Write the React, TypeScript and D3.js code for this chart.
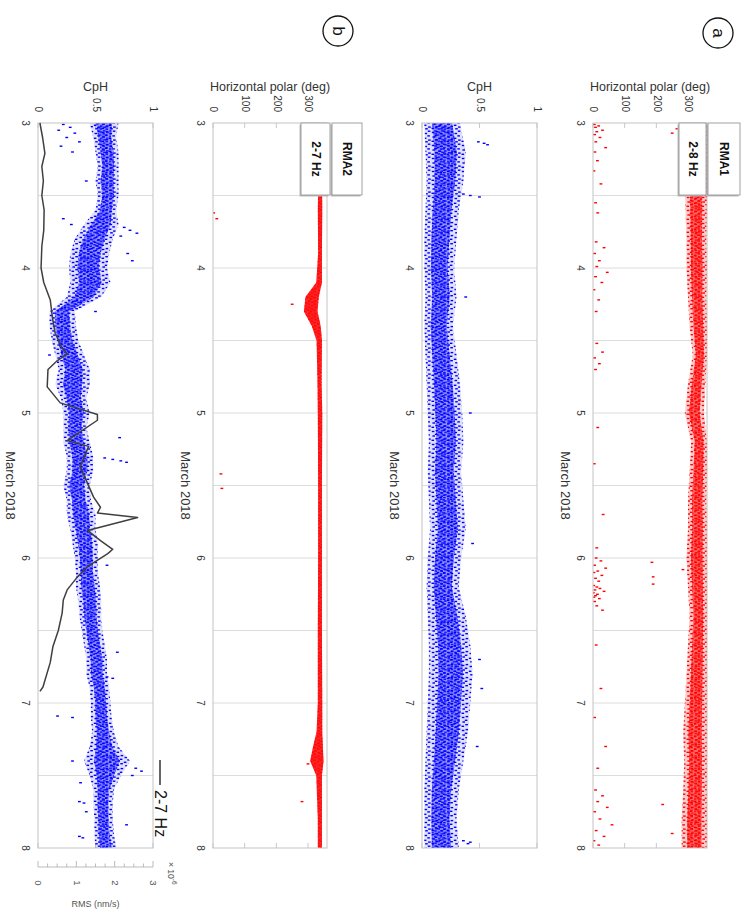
import React from 'react';
import * as d3 from 'd3';

// ---------- data ----------
const dayTicks = [3, 4, 5, 6, 7, 8];
const gridDays = [3.5, 4, 4.5, 5, 5.5, 6, 6.5, 7, 7.5];
const polarTicks = [0, 100, 200, 300];
const cphTicks = [0, 0.5, 1];
const rmsTicks = [0, 1, 2, 3];

// [day, low, high] envelopes of the point clouds
const polarABand: [number, number, number][] = [
  [3.0, 280, 360], [3.2, 285, 360], [3.4, 290, 360], [3.6, 292, 360], [3.8, 295, 358],
  [4.0, 295, 360], [4.2, 300, 358], [4.4, 305, 360], [4.6, 315, 360], [4.8, 300, 355],
  [5.0, 290, 350], [5.2, 310, 360], [5.4, 305, 360], [5.6, 300, 358], [5.8, 300, 360],
  [6.0, 295, 360], [6.2, 300, 360], [6.4, 305, 360], [6.6, 300, 360], [6.8, 295, 360],
  [7.0, 290, 360], [7.2, 285, 360], [7.4, 288, 360], [7.6, 285, 360], [7.8, 280, 360],
  [8.0, 280, 360],
];
const cphABand: [number, number, number][] = [
  [3.0, 0.02, 0.33], [3.2, 0.03, 0.38], [3.4, 0.04, 0.36], [3.6, 0.03, 0.32], [3.8, 0.02, 0.30],
  [4.0, 0.02, 0.28], [4.2, 0.03, 0.30], [4.4, 0.02, 0.27], [4.6, 0.03, 0.30], [4.8, 0.04, 0.33],
  [5.0, 0.05, 0.35], [5.2, 0.06, 0.36], [5.4, 0.05, 0.34], [5.6, 0.06, 0.36], [5.8, 0.07, 0.38],
  [6.0, 0.05, 0.34], [6.2, 0.04, 0.32], [6.4, 0.05, 0.38], [6.6, 0.06, 0.42], [6.8, 0.06, 0.44],
  [7.0, 0.05, 0.42], [7.2, 0.04, 0.40], [7.4, 0.03, 0.36], [7.6, 0.02, 0.32], [7.8, 0.02, 0.30],
  [8.0, 0.02, 0.32],
];
const polarBBand: [number, number, number][] = [
  [3.0, 332, 344], [3.3, 333, 344], [3.6, 331, 345], [3.9, 332, 344], [4.1, 326, 344],
  [4.2, 292, 334], [4.3, 287, 330], [4.4, 312, 340], [4.5, 327, 344], [4.8, 330, 343],
  [5.0, 331, 345], [5.5, 332, 344], [6.0, 332, 344], [6.5, 331, 344], [7.0, 331, 345],
  [7.2, 327, 345], [7.3, 316, 347], [7.4, 307, 349], [7.5, 326, 344], [7.8, 331, 344],
  [8.0, 331, 344],
];
const cphBBand: [number, number, number][] = [
  [3.0, 0.45, 0.70], [3.1, 0.48, 0.68], [3.2, 0.50, 0.70], [3.3, 0.52, 0.70], [3.4, 0.50, 0.70],
  [3.5, 0.52, 0.70], [3.6, 0.50, 0.68], [3.7, 0.40, 0.70], [3.8, 0.32, 0.65], [3.9, 0.28, 0.62],
  [4.0, 0.27, 0.60], [4.1, 0.28, 0.63], [4.2, 0.25, 0.55], [4.3, 0.10, 0.32], [4.4, 0.10, 0.33],
  [4.5, 0.12, 0.35], [4.6, 0.15, 0.40], [4.7, 0.18, 0.45], [4.8, 0.15, 0.45], [4.9, 0.20, 0.42],
  [5.0, 0.22, 0.45], [5.1, 0.22, 0.42], [5.2, 0.22, 0.45], [5.3, 0.25, 0.48], [5.4, 0.25, 0.48],
  [5.5, 0.22, 0.45], [5.6, 0.25, 0.46], [5.7, 0.25, 0.50], [5.8, 0.28, 0.50], [5.9, 0.30, 0.52],
  [6.0, 0.32, 0.52], [6.1, 0.33, 0.52], [6.2, 0.33, 0.54], [6.3, 0.35, 0.55], [6.4, 0.36, 0.55],
  [6.5, 0.38, 0.56], [6.6, 0.40, 0.58], [6.7, 0.42, 0.60], [6.8, 0.42, 0.60], [6.9, 0.45, 0.62],
  [7.0, 0.46, 0.63], [7.1, 0.46, 0.64], [7.2, 0.47, 0.66], [7.3, 0.45, 0.70], [7.4, 0.40, 0.80],
  [7.5, 0.45, 0.72], [7.6, 0.48, 0.66], [7.7, 0.48, 0.65], [7.8, 0.49, 0.65], [7.9, 0.49, 0.66],
  [8.0, 0.50, 0.68],
];

// isolated points [day, value]
const polarAPoints: [number, number][] = [
  [3.01, 4], [3.02, 18], [3.03, 8], [3.05, 30], [3.06, 12], [3.08, 5], [3.1, 22], [3.13, 9],
  [3.17, 40], [3.2, 6], [3.26, 14], [3.33, 3], [3.42, 25], [3.55, 8], [3.62, 15],
  [3.02, 275], [3.04, 265], [3.07, 250], [3.1, 280],
  [3.82, 10], [3.86, 35], [3.9, 5], [3.95, 20], [3.99, 12], [4.03, 45], [4.06, 8], [4.1, 28],
  [4.15, 3], [4.22, 18], [4.3, 10],
  [4.52, 12], [4.58, 30], [4.62, 5], [4.66, 20], [4.7, 8],
  [5.1, 15], [5.35, 4], [5.7, 32], [5.93, 12],
  [6.0, 10], [6.02, 25], [6.03, 186], [6.05, 5], [6.07, 40], [6.08, 284], [6.09, 15], [6.1, 3],
  [6.12, 28], [6.13, 190], [6.14, 8], [6.16, 18], [6.18, 190], [6.19, 2], [6.2, 12], [6.21, 22],
  [6.22, 6], [6.23, 35], [6.24, 1], [6.25, 14], [6.26, 8], [6.27, 3], [6.28, 20], [6.3, 5],
  [6.33, 12], [6.36, 30],
  [6.6, 10], [6.9, 25], [7.1, 5], [7.3, 40], [7.45, 15],
  [7.6, 8], [7.64, 30], [7.68, 15], [7.72, 45], [7.75, 5], [7.8, 22], [7.84, 60], [7.88, 10],
  [7.92, 35], [7.95, 3], [7.98, 18], [7.7, 220], [7.9, 250],
];
const cphAPoints: [number, number][] = [
  [3.13, 0.49], [3.14, 0.54], [3.15, 0.57], [3.49, 0.36], [3.5, 0.42], [3.51, 0.5],
  [4.2, 0.38], [5.0, 0.42], [5.9, 0.44], [6.7, 0.5], [6.9, 0.52], [7.3, 0.48],
  [7.95, 0.36], [7.96, 0.42], [7.97, 0.4],
];
const polarBPoints: [number, number][] = [
  [3.62, 2], [3.66, 12], [4.25, 250], [5.42, 25], [5.52, 28], [7.68, 281], [7.42, 300],
];
const cphBPoints: [number, number][] = [
  [3.01, 0.22], [3.03, 0.28], [3.05, 0.18], [3.07, 0.32], [3.1, 0.25], [3.13, 0.36], [3.16, 0.2],
  [3.2, 0.3], [3.4, 0.42], [3.66, 0.22], [3.7, 0.29], [3.72, 0.75], [3.74, 0.8], [3.76, 0.86],
  [3.78, 0.72], [3.9, 0.78], [3.95, 0.82], [4.3, 0.5], [4.6, 0.1], [5.17, 0.71], [5.31, 0.58],
  [5.32, 0.65], [5.33, 0.72], [5.34, 0.77], [6.05, 0.6], [6.65, 0.69], [6.82, 0.6], [6.83, 0.65],
  [7.09, 0.17], [7.1, 0.3], [7.4, 0.3], [7.55, 0.37], [7.68, 0.36], [7.69, 0.4], [7.75, 0.42],
  [7.84, 0.77], [7.92, 0.36], [7.93, 0.39], [7.45, 0.85], [7.47, 0.9], [7.5, 0.82],
];

// RMS (x10^-6) line, 2-7 Hz
const rmsLine: [number, number][] = [
  [3.0, 0.05], [3.1, 0.12], [3.21, 0.18], [3.3, 0.1], [3.4, 0.14], [3.5, 0.1], [3.6, 0.16],
  [3.74, 0.15], [3.85, 0.1], [4.0, 0.08], [4.1, 0.15], [4.22, 0.32], [4.35, 0.38], [4.45, 0.45],
  [4.55, 0.62], [4.59, 0.76], [4.64, 0.5], [4.7, 0.26], [4.82, 0.24], [4.93, 0.58], [5.01, 1.55],
  [5.05, 1.55], [5.19, 0.76], [5.23, 1.32], [5.37, 1.1], [5.58, 1.45], [5.65, 1.63], [5.69, 1.55],
  [5.72, 2.6], [5.81, 1.29], [5.88, 1.63], [5.94, 1.95], [5.97, 1.82], [6.06, 1.29], [6.13, 1.03],
  [6.22, 0.76], [6.29, 0.66], [6.38, 0.63], [6.5, 0.53], [6.61, 0.39], [6.72, 0.32], [6.89, 0.13],
  [6.92, 0.05],
];

// ---------- layout (original, un-rotated frame: 915 wide x 746 tall) ----------
const FONT = 'Liberation Sans, Arial, Helvetica, sans-serif';
const X0 = 123, X1 = 848;
const xS = d3.scaleLinear().domain([3, 8]).range([X0, X1]);

type PanelDef = {
  id: string; bottom: number; top: number; dom: [number, number]; ticks: number[];
  title: string; color: string; outerOp: number; innerOp: number;
  band: [number, number, number][]; pts: [number, number][]; tight?: boolean;
};

const panels: PanelDef[] = [
  { id: 'pa', bottom: 153, top: 39, dom: [0, 360], ticks: polarTicks, title: 'Horizontal polar (deg)', color: '#ff0000', outerOp: 0.2, innerOp: 0.5, band: polarABand, pts: polarAPoints },
  { id: 'ca', bottom: 324, top: 209, dom: [0, 1], ticks: cphTicks, title: 'CpH', color: '#0000ff', outerOp: 0.12, innerOp: 0.35, band: cphABand, pts: cphAPoints },
  { id: 'pb', bottom: 533, top: 419, dom: [0, 360], ticks: polarTicks, title: 'Horizontal polar (deg)', color: '#ff0000', outerOp: 0.85, innerOp: 0.85, band: polarBBand, pts: polarBPoints, tight: true },
  { id: 'cb', bottom: 708, top: 593, dom: [0, 1], ticks: cphTicks, title: 'CpH', color: '#0000ff', outerOp: 0.12, innerOp: 0.35, band: cphBBand, pts: cphBPoints },
];

// marker texture layouts (style only): dash positions inside a repeating tile
const sparseTile: [number, number][] = [
  [0.5, 0.6], [5.2, 1.1], [9.4, 0.3], [2.8, 3.9], [7.6, 4.6], [11.1, 3.2],
  [0.9, 7.8], [4.6, 8.6], [9.0, 8.1], [6.3, 11.0], [1.8, 11.6], [10.6, 11.9],
];
const denseTile: [number, number][] = [
  [0.3, 0.4], [3.4, 0.9], [6.6, 0.2], [9.5, 1.3], [1.6, 3.2], [5.0, 3.6], [8.1, 4.0],
  [10.9, 4.6], [0.4, 6.4], [3.2, 6.9], [6.4, 6.7], [9.3, 7.6], [2.0, 9.6], [5.2, 10.2],
  [7.9, 10.0], [10.8, 10.6],
];

function Patterns() {
  const defs: JSX.Element[] = [];
  [['r', '#ff0000'], ['b', '#0000ff']].forEach(([k, c]) => {
    defs.push(
      <pattern key={'s' + k} id={'sparse-' + k} width={13} height={15} patternUnits="userSpaceOnUse">
        {sparseTile.map(([x, y], i) => <rect key={i} x={x} y={y} width={1.4} height={2.6} fill={c} />)}
      </pattern>,
      <pattern key={'d' + k} id={'dense-' + k} width={12.5} height={13} patternUnits="userSpaceOnUse">
        {denseTile.map(([x, y], i) => <rect key={i} x={x} y={y} width={1.4} height={2.6} fill={c} />)}
      </pattern>
    );
  });
  return <defs>{defs}
    {panels.map(p => (
      <clipPath key={p.id} id={'clip-' + p.id}><rect x={X0} y={p.top} width={X1 - X0} height={p.bottom - p.top} /></clipPath>
    ))}
  </defs>;
}

function Panel({ p }: { p: PanelDef }) {
  const yS = d3.scaleLinear().domain(p.dom).range([p.bottom, p.top]);
  const k = p.color === '#ff0000' ? 'r' : 'b';
  const outer = d3.area<[number, number, number]>().x(d => xS(d[0])).y0(d => yS(d[1])).y1(d => yS(d[2]));
  const inner = d3.area<[number, number, number]>().x(d => xS(d[0]))
    .y0(d => yS(d[1] + (d[2] - d[1]) * 0.22)).y1(d => yS(d[1] + (d[2] - d[1]) * 0.78));
  const mid = (p.top + p.bottom) / 2;
  return (
    <g>
      {gridDays.map(d => (
        <line key={d} x1={xS(d)} x2={xS(d)} y1={p.top} y2={p.bottom} stroke="#dcdcdc" strokeWidth={1} />
      ))}
      {p.ticks.map(t => (
        <g key={t}>
          <line x1={X0} x2={X0 + 5} y1={yS(t)} y2={yS(t)} stroke="#c8c8c8" />
          <line x1={X1} x2={X1 - 5} y1={yS(t)} y2={yS(t)} stroke="#c8c8c8" />
        </g>
      ))}
      <g clipPath={`url(#clip-${p.id})`}>
        {p.tight ? (
          <g>
            <path d={outer(p.band) || ''} fill={p.color} fillOpacity={p.outerOp} />
            <path d={outer(p.band) || ''} fill={`url(#dense-${k})`} />
          </g>
        ) : (
          <g>
            <path d={outer(p.band) || ''} fill={p.color} fillOpacity={p.outerOp} />
            <path d={outer(p.band) || ''} fill={`url(#sparse-${k})`} />
            <path d={inner(p.band) || ''} fill={p.color} fillOpacity={p.innerOp} />
            <path d={inner(p.band) || ''} fill={`url(#dense-${k})`} />
          </g>
        )}
        {p.pts.map((d, i) => (
          <rect key={i} x={xS(d[0]) - 0.7} y={yS(d[1]) - 1.4} width={1.4} height={2.8} fill={p.color} />
        ))}
      </g>
      <rect x={X0} y={p.top} width={X1 - X0} height={p.bottom - p.top} fill="none" stroke="#c4c4c4" strokeWidth={1} />
      {p.ticks.map(t => (
        <text key={t} x={112} y={yS(t)} textAnchor="end" dominantBaseline="middle" fontSize={10} fill="#333" fontFamily={FONT}>{t}</text>
      ))}
      {dayTicks.map(d => (
        <text key={d} x={xS(d)} y={p.bottom + 13} textAnchor="middle" dominantBaseline="middle" fontSize={10} fill="#333" fontFamily={FONT}>{d}</text>
      ))}
      <text x={(X0 + X1) / 2} y={p.bottom + 29} textAnchor="middle" dominantBaseline="middle" fontSize={13} fill="#333" fontFamily={FONT}>March 2018</text>
      <text transform={`translate(88,${mid}) rotate(-90)`} textAnchor="middle" dominantBaseline="middle" fontSize={12.5} fill="#333" fontFamily={FONT}>{p.title}</text>
    </g>
  );
}

function LabelBox({ y, h, text }: { y: number; h: number; text: string }) {
  return (
    <g>
      <rect x={X0 + 1.5} y={y + 1.5} width={72} height={h} fill="#bdbdbd" />
      <rect x={X0} y={y} width={72} height={h} fill="#fff" stroke="#8a8a8a" strokeWidth={0.8} />
      <text x={X0 + 36} y={y + h / 2 + 0.5} textAnchor="middle" dominantBaseline="middle" fontSize={12} fontWeight="bold" fill="#111" fontFamily={FONT}>{text}</text>
    </g>
  );
}

export default function App() {
  const rmsS = d3.scaleLinear().domain([0, 3]).range([708, 593]);
  const line = d3.line<[number, number]>().x(d => xS(d[0])).y(d => rmsS(d[1]));
  const minor = d3.range(0, 3.001, 0.25);
  return (
    <svg width={746} height={915} style={{ position: 'absolute', left: 0, top: 0, background: '#fff' }}>
      <rect x={0} y={0} width={746} height={915} fill="#fff" />
      <g transform="translate(746,0) rotate(90)">
        <Patterns />
        {panels.map(p => <Panel key={p.id} p={p} />)}

        <path d={line(rmsLine) || ''} fill="none" stroke="#3f3f3f" strokeWidth={1.5} strokeLinejoin="round" />

        <LabelBox y={6} h={32} text="RMA1" />
        <LabelBox y={40} h={27} text="2-8 Hz" />
        <LabelBox y={384} h={30} text="RMA2" />
        <LabelBox y={416} h={29} text="2-7 Hz" />

        <circle cx={33} cy={28} r={15} fill="#fff" stroke="#111" strokeWidth={1.3} />
        <text x={33} y={29} textAnchor="middle" dominantBaseline="middle" fontSize={17} fill="#111" fontFamily={FONT}>a</text>
        <circle cx={31} cy={408} r={15} fill="#fff" stroke="#111" strokeWidth={1.3} />
        <text x={31} y={409} textAnchor="middle" dominantBaseline="middle" fontSize={17} fill="#111" fontFamily={FONT}>b</text>

        <line x1={760} x2={785} y1={586} y2={586} stroke="#333" strokeWidth={1.5} />
        <text x={790} y={587} dominantBaseline="middle" fontSize={16} fill="#111" fontFamily={FONT}>2-7 Hz</text>

        <line x1={867} x2={867} y1={rmsS(0)} y2={rmsS(3)} stroke="#bbb" />
        {minor.map(v => (
          <line key={v} x1={867} x2={867 - (Number.isInteger(v) ? 6 : 3.5)} y1={rmsS(v)} y2={rmsS(v)} stroke="#bbb" />
        ))}
        {rmsTicks.map(v => (
          <text key={v} x={883} y={rmsS(v)} textAnchor="middle" dominantBaseline="middle" fontSize={9.5} fill="#555" fontFamily={FONT}>{v}</text>
        ))}
        <text x={862} y={576} dominantBaseline="middle" fontSize={8.5} fill="#555" fontFamily={FONT}>
          × 10<tspan dy={-4} fontSize={6.5}>-6</tspan>
        </text>
        <text transform={`translate(905,${(rmsS(0) + rmsS(3)) / 2}) rotate(-90)`} textAnchor="middle" dominantBaseline="middle" fontSize={9} fill="#555" fontFamily={FONT}>RMS (nm/s)</text>
      </g>
    </svg>
  );
}
